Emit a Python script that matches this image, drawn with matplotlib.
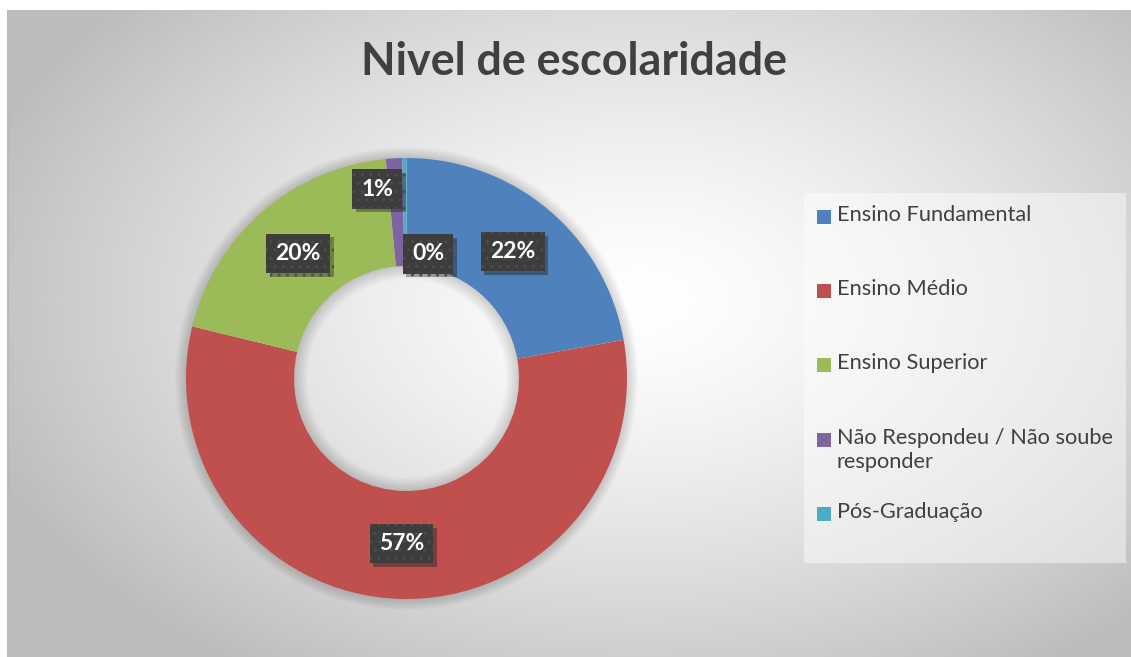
import numpy as np
import matplotlib
matplotlib.use("Agg")
import matplotlib.pyplot as plt
from matplotlib.patches import Rectangle, Wedge
import matplotlib.patheffects as pe

# ---- data ----
categories = ["Ensino Fundamental", "Ensino Médio", "Ensino Superior",
              "Não Respondeu / Não soube\nresponder", "Pós-Graduação"]
values = [22.2, 56.6, 19.7, 1.2, 0.3]
colors = ["#4F81BD", "#C0504D", "#9BBB59", "#8064A2", "#4BACC6"]
title = "Nivel de escolaridade"

W, H = 1131, 657
fig = plt.figure(figsize=(W / 100, H / 100), dpi=100)
fig.patch.set_facecolor("white")

# ---- radial gradient background (chart area) ----
x0, y0 = 7, 10  # chart area top-left in px
bg = fig.add_axes([x0 / W, 0, 1 - x0 / W, 1 - y0 / H])
bg.set_axis_off()
gx = np.arange(x0, W)
gy = np.arange(y0, H)
X, Y = np.meshgrid(gx, gy)
cx, cy, rx, ry = 640, 300, 700, 450
d = np.sqrt(((X - cx) / rx) ** 2 + ((Y - cy) / ry) ** 2)
d = np.clip(d, 0, 1)
val = 255 - (255 - 188) * d ** 1.4
img = np.dstack([val, val, val]).astype(np.uint8)
img[:, :2] = 185
bg.imshow(img, aspect="auto", extent=[0, 1, 0, 1], origin="upper")
bg.set_xlim(0, 1)
bg.set_ylim(0, 1)

# ---- donut ----
ccx, ccy, R = 406.5, 378.5, 220.5
ax = fig.add_axes([(ccx - R) / W, (H - ccy - R) / H, 2 * R / W, 2 * R / H])
ax.set_axis_off()
width = 0.49
# soft shadows (outer halo and inner hole)
for k in range(10):
    ax.add_patch(Wedge((0, 0), 1 + 0.005 * (k + 1), 0, 360, width=0.005 * (k + 1) + 0.01,
                       facecolor="black", alpha=0.016, linewidth=0, zorder=0,
                       clip_on=False))
    ax.add_patch(Wedge((0, 0), 1 - width, 0, 360, width=0.006 * (k + 1),
                       facecolor="black", alpha=0.016, linewidth=0, zorder=3,
                       clip_on=False))
wedges, _ = ax.pie(values, colors=colors, startangle=90, counterclock=False,
                   radius=1, wedgeprops=dict(width=width, linewidth=0))
ax.set_xlim(-1, 1)
ax.set_ylim(-1, 1)
ax.set_aspect("equal")

label_r = 0.75
label_shift = [(0, 0), (0, 0), (0, 0), (-0.09, 0.11), (0.105, -0.185)]
total = sum(values)
for w, v, (sx, sy) in zip(wedges, values, label_shift):
    mid = np.deg2rad((w.theta1 + w.theta2) / 2)
    lx = label_r * np.cos(mid) + sx
    ly = label_r * np.sin(mid) + sy
    t = ax.text(lx, ly, f"{round(v / total * 100):.0f}%", ha="center", va="center",
                color="white", fontsize=16.5, fontweight="bold", family="Lato",
                zorder=5,
                bbox=dict(boxstyle="square,pad=0.4", facecolor="#3d3d3d",
                          edgecolor="#4c4c4c", linewidth=0, hatch=".."))
    t.get_bbox_patch().set_path_effects([
        pe.SimplePatchShadow(offset=(2.5, -2.5), shadow_rgbFace="black", alpha=0.3),
        pe.Normal()])

# ---- title ----
fig.text(574 / W, 1 - 62 / H, title, ha="center", va="center", fontsize=32.3,
         fontweight="bold", family="Lato", color="#404040")

# ---- legend ----
lx0, ly0, lx1, ly1 = 804, 193, 1126, 563
fig.patches.append(Rectangle((lx0 / W, 1 - ly1 / H), (lx1 - lx0) / W, (ly1 - ly0) / H,
                             transform=fig.transFigure, facecolor="white", alpha=0.45,
                             edgecolor="none", zorder=1))
first_y = 217
step = 74.2
sq = 14
for i, (c, lab) in enumerate(zip(colors, categories)):
    yc = first_y + step * i
    fig.patches.append(Rectangle((817 / W, 1 - (yc + sq / 2) / H), sq / W, sq / H,
                                 transform=fig.transFigure, facecolor=c,
                                 edgecolor="none", zorder=2))
    fig.text(837 / W, 1 - (yc - 12) / H, lab, ha="left", va="top", fontsize=15.7,
             family="Lato", color="#404040", linespacing=1.25, zorder=3)

fig.savefig("out.png", dpi=100)
